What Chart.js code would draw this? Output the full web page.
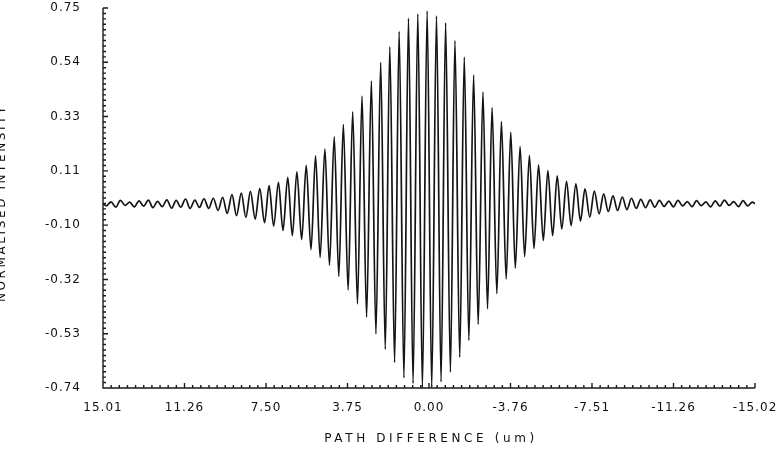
<!DOCTYPE html>
<html>
<head>
<meta charset="utf-8">
<script src="https://cdn.jsdelivr.net/npm/chart.js@4/dist/chart.umd.min.js"></script>
<style>
    html, body { margin: 0; padding: 0; background: #fff; }
</style>
</head>
<body>
<canvas id="fringeChart" width="778" height="457"></canvas>
<script>
// axis labels as printed on the plot
const xLabels = ['15.01', '11.26', '7.50', '3.75', '0.00', '-3.76', '-7.51', '-11.26', '-15.02'];
const yLabels = ['0.75', '0.54', '0.33', '0.11', '-0.10', '-0.32', '-0.53', '-0.74'];
const xMax = 15.01, xMin = -15.02;
const yMax = 0.75, yMin = -0.74;

// fringe maxima (path difference in um, intensity) left to right
const peakPos = [
    14.64, 14.21, 13.78, 13.35, 12.92, 12.50, 12.07, 11.64, 11.21, 10.78,
    10.36, 9.93, 9.50, 9.07, 8.64, 8.22, 7.79, 7.36, 6.93, 6.50,
    6.08, 5.65, 5.22, 4.79, 4.36, 3.94, 3.51, 3.08, 2.65, 2.22,
    1.80, 1.37, 0.94, 0.51, 0.08, -0.35, -0.77, -1.20, -1.63, -2.06,
    -2.49, -2.91, -3.34, -3.77, -4.20, -4.63, -5.05, -5.48, -5.91, -6.34,
    -6.77, -7.19, -7.62, -8.05, -8.48, -8.91, -9.33, -9.76, -10.19, -10.62,
    -11.05, -11.47, -11.90, -12.33, -12.76, -13.19, -13.61, -14.04, -14.47, -14.90
];
const peakVal = [
    -0.010, -0.004, -0.011, -0.006, -0.003, -0.008, -0.002, -0.004, 0.001, -0.003,
    0.002, 0.004, 0.008, 0.018, 0.024, 0.031, 0.042, 0.054, 0.066, 0.086,
    0.108, 0.133, 0.170, 0.198, 0.245, 0.293, 0.343, 0.405, 0.463, 0.537,
    0.598, 0.658, 0.710, 0.727, 0.738, 0.719, 0.692, 0.622, 0.557, 0.487,
    0.420, 0.359, 0.305, 0.262, 0.208, 0.172, 0.135, 0.112, 0.092, 0.070,
    0.060, 0.041, 0.032, 0.021, 0.013, 0.009, 0.004, 0.000, -0.002, -0.004,
    -0.007, -0.004, -0.009, -0.005, -0.010, -0.006, -0.003, -0.009, -0.005, -0.011
];

// fringe minima
const troughPos = [
    14.85, 14.42, 13.99, 13.57, 13.14, 12.71, 12.28, 11.85, 11.43, 11.00,
    10.57, 10.14, 9.71, 9.29, 8.86, 8.43, 8.00, 7.57, 7.15, 6.72,
    6.29, 5.86, 5.43, 5.01, 4.58, 4.15, 3.72, 3.29, 2.87, 2.44,
    2.01, 1.58, 1.15, 0.73, 0.30, -0.13, -0.56, -0.99, -1.42, -1.84,
    -2.27, -2.70, -3.13, -3.56, -3.98, -4.41, -4.84, -5.27, -5.70, -6.12,
    -6.55, -6.98, -7.41, -7.84, -8.26, -8.69, -9.12, -9.55, -9.98, -10.40,
    -10.83, -11.26, -11.69, -12.12, -12.54, -12.97, -13.40, -13.83, -14.26, -14.68
];
const troughVal = [
    -0.026, -0.031, -0.024, -0.030, -0.027, -0.033, -0.029, -0.035, -0.031, -0.036,
    -0.032, -0.036, -0.044, -0.055, -0.064, -0.071, -0.078, -0.092, -0.105, -0.122,
    -0.143, -0.158, -0.198, -0.228, -0.258, -0.302, -0.355, -0.410, -0.462, -0.528,
    -0.588, -0.640, -0.700, -0.722, -0.738, -0.738, -0.716, -0.678, -0.620, -0.553,
    -0.490, -0.430, -0.370, -0.312, -0.270, -0.225, -0.193, -0.162, -0.143, -0.116,
    -0.103, -0.085, -0.070, -0.057, -0.048, -0.044, -0.041, -0.036, -0.033, -0.031,
    -0.028, -0.030, -0.026, -0.029, -0.025, -0.030, -0.027, -0.024, -0.029, -0.026
];

// ends of the scan
const edgePos = [15.01, -15.02];
const edgeVal = [-0.018, -0.018];

const minorPerMajor = 10;


function buildTrace() {
    let points = [];
    edgePos.forEach(function(p, i) { points.push({x: p, y: edgeVal[i]}); });
    peakPos.forEach(function(p, i) { points.push({x: p, y: peakVal[i]}); });
    troughPos.forEach(function(p, i) { points.push({x: p, y: troughVal[i]}); });
    points.sort(function(a, b) { return b.x - a.x; });
    return points;
}


function evenTicks(lo, hi, n) {
    let ticks = [];
    for (let k = 0; k < n; k++) {
        ticks.push({value: hi - (hi - lo) * k / (n - 1)});
    }
    return ticks;
}


const plotterAxes = {
    id: 'plotterAxes',
    beforeDraw(chart) {
        chart.ctx.letterSpacing = '1px';
    },
    afterDraw(chart) {
        const ctx = chart.ctx;
        const a = chart.chartArea;
        const xs = chart.scales.x, ys = chart.scales.y;
        ctx.save();
        ctx.strokeStyle = '#1a1a1a';
        ctx.lineWidth = 1.4;
        ctx.beginPath();
        ctx.moveTo(a.left, a.top);
        ctx.lineTo(a.left, a.bottom);
        ctx.lineTo(a.right, a.bottom);

        const ySteps = (yLabels.length - 1) * minorPerMajor;
        for (let k = 0; k <= ySteps; k++) {
            const py = ys.getPixelForValue(yMin + (yMax - yMin) * k / ySteps);
            const len = k % minorPerMajor === 0 ? 5 : 3;
            ctx.moveTo(a.left, py);
            ctx.lineTo(a.left + len, py);
        }
        const xSteps = (xLabels.length - 1) * minorPerMajor;
        for (let k = 0; k <= xSteps; k++) {
            const px = xs.getPixelForValue(xMin + (xMax - xMin) * k / xSteps);
            const len = k % minorPerMajor === 0 ? 5 : 3;
            ctx.moveTo(px, a.bottom);
            ctx.lineTo(px, a.bottom - len);
        }
        ctx.stroke();

        ctx.fillStyle = '#111';
        ctx.font = '12px "DejaVu Sans"';
        ctx.textAlign = 'center';
        ctx.textBaseline = 'alphabetic';
        ctx.letterSpacing = '3.6px';
        ctx.fillText('PATH DIFFERENCE (um)', (a.left + a.right) / 2 + 2, 442);

        ctx.letterSpacing = '2.6px';
        ctx.translate(5, 203);
        ctx.rotate(-Math.PI / 2);
        ctx.fillText('NORMALISED INTENSITY', 0, 0);
        ctx.restore();
    }
};


document.addEventListener('DOMContentLoaded', function() {
    const tickFont = {family: 'DejaVu Sans', size: 12};
    const xStep = (xMax - xMin) / (xLabels.length - 1);
    const yStep = (yMax - yMin) / (yLabels.length - 1);

    const config = {
        type: 'line',
        data: {
            datasets: [{
                data: buildTrace(),
                borderColor: '#141414',
                borderWidth: 1.7,
                pointRadius: 0,
                cubicInterpolationMode: 'monotone',
                fill: false
            }]
        },
        options: {
            responsive: false,
            animation: false,
            devicePixelRatio: 1,
            layout: {padding: {top: 8, right: 23, left: 0, bottom: 0}},
            plugins: {
                legend: {display: false},
                tooltip: {enabled: false}
            },
            scales: {
                x: {
                    type: 'linear',
                    reverse: true,
                    min: xMin,
                    max: xMax,
                    grid: {display: false},
                    border: {display: false},
                    afterBuildTicks: function(scale) {
                        scale.ticks = evenTicks(xMin, xMax, xLabels.length);
                    },
                    afterFit: function(scale) {
                        scale.height = 69;
                        scale.paddingLeft = 0;
                        scale.paddingRight = 0;
                    },
                    ticks: {
                        autoSkip: false,
                        maxRotation: 0,
                        padding: 5,
                        color: '#111',
                        font: tickFont,
                        callback: function(v) {
                            return xLabels[Math.round((xMax - v) / xStep)];
                        }
                    }
                },
                y: {
                    min: yMin,
                    max: yMax,
                    grid: {display: false},
                    border: {display: false},
                    afterBuildTicks: function(scale) {
                        scale.ticks = evenTicks(yMin, yMax, yLabels.length);
                    },
                    afterFit: function(scale) {
                        scale.width = 103;
                        scale.paddingTop = 0;
                        scale.paddingBottom = 0;
                    },
                    ticks: {
                        padding: 14,
                        color: '#111',
                        font: tickFont,
                        callback: function(v) {
                            return yLabels[Math.round((yMax - v) / yStep)];
                        }
                    }
                }
            }
        },
        plugins: [plotterAxes]
    };
    new Chart(document.getElementById('fringeChart'), config);
});
</script>
</body>
</html>
